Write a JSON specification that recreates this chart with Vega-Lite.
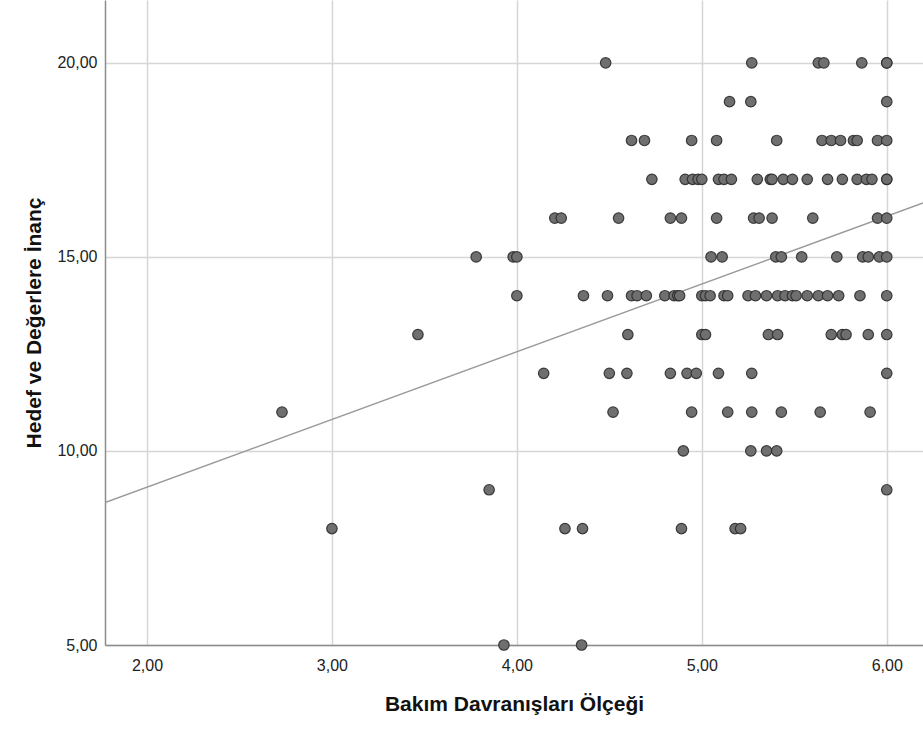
{
  "$schema": "https://vega.github.io/schema/vega-lite/v6.json",
  "autosize": {"type": "none"},
  "padding": {"left": 105, "top": 0, "right": 0, "bottom": 85},
  "width": 818,
  "height": 645,
  "background": "white",
  "config": {
    "view": {"stroke": null},
    "font": "Liberation Sans",
    "axis": {
      "grid": true,
      "gridColor": "#d6d6d6",
      "gridWidth": 1.5,
      "domainColor": "#8c8c8c",
      "domainWidth": 1.5,
      "ticks": false,
      "labelFont": "Liberation Sans",
      "labelFontSize": 16,
      "labelColor": "#222222",
      "titleFont": "Liberation Sans",
      "titleFontSize": 21,
      "titleFontWeight": "bold",
      "titleColor": "#111111"
    }
  },
  "datasets": {
    "pts": [
      {"x": 4.48, "y": 20}, {"x": 5.27, "y": 20}, {"x": 5.63, "y": 20}, {"x": 5.66, "y": 20}, {"x": 5.865, "y": 20}, {"x": 6.0, "y": 20}, {"x": 6.0, "y": 20},
      {"x": 5.15, "y": 19}, {"x": 5.265, "y": 19}, {"x": 6.0, "y": 19},
      {"x": 4.62, "y": 18}, {"x": 4.69, "y": 18}, {"x": 4.945, "y": 18}, {"x": 5.08, "y": 18}, {"x": 5.405, "y": 18}, {"x": 5.65, "y": 18}, {"x": 5.70, "y": 18}, {"x": 5.75, "y": 18}, {"x": 5.82, "y": 18}, {"x": 5.84, "y": 18}, {"x": 5.95, "y": 18}, {"x": 6.0, "y": 18},
      {"x": 4.73, "y": 17}, {"x": 4.91, "y": 17}, {"x": 4.95, "y": 17}, {"x": 4.98, "y": 17}, {"x": 5.0, "y": 17}, {"x": 5.09, "y": 17}, {"x": 5.12, "y": 17}, {"x": 5.16, "y": 17}, {"x": 5.30, "y": 17}, {"x": 5.37, "y": 17}, {"x": 5.38, "y": 17}, {"x": 5.44, "y": 17}, {"x": 5.49, "y": 17}, {"x": 5.57, "y": 17}, {"x": 5.68, "y": 17}, {"x": 5.76, "y": 17}, {"x": 5.84, "y": 17}, {"x": 5.89, "y": 17}, {"x": 5.92, "y": 17}, {"x": 6.0, "y": 17}, {"x": 6.0, "y": 17},
      {"x": 4.205, "y": 16}, {"x": 4.24, "y": 16}, {"x": 4.55, "y": 16}, {"x": 4.83, "y": 16}, {"x": 4.89, "y": 16}, {"x": 5.08, "y": 16}, {"x": 5.28, "y": 16}, {"x": 5.31, "y": 16}, {"x": 5.38, "y": 16}, {"x": 5.60, "y": 16}, {"x": 5.95, "y": 16}, {"x": 6.0, "y": 16},
      {"x": 3.78, "y": 15}, {"x": 3.98, "y": 15}, {"x": 4.0, "y": 15}, {"x": 5.05, "y": 15}, {"x": 5.11, "y": 15}, {"x": 5.40, "y": 15}, {"x": 5.43, "y": 15}, {"x": 5.54, "y": 15}, {"x": 5.73, "y": 15}, {"x": 5.87, "y": 15}, {"x": 5.90, "y": 15}, {"x": 5.96, "y": 15}, {"x": 6.0, "y": 15},
      {"x": 4.0, "y": 14}, {"x": 4.36, "y": 14}, {"x": 4.49, "y": 14}, {"x": 4.62, "y": 14}, {"x": 4.65, "y": 14}, {"x": 4.70, "y": 14}, {"x": 4.80, "y": 14}, {"x": 4.85, "y": 14}, {"x": 4.87, "y": 14}, {"x": 4.88, "y": 14}, {"x": 5.0, "y": 14}, {"x": 5.02, "y": 14}, {"x": 5.045, "y": 14}, {"x": 5.12, "y": 14}, {"x": 5.14, "y": 14}, {"x": 5.25, "y": 14}, {"x": 5.29, "y": 14}, {"x": 5.35, "y": 14}, {"x": 5.41, "y": 14}, {"x": 5.45, "y": 14}, {"x": 5.49, "y": 14}, {"x": 5.51, "y": 14}, {"x": 5.57, "y": 14}, {"x": 5.63, "y": 14}, {"x": 5.68, "y": 14}, {"x": 5.74, "y": 14}, {"x": 5.855, "y": 14}, {"x": 6.0, "y": 14},
      {"x": 3.465, "y": 13}, {"x": 4.60, "y": 13}, {"x": 5.0, "y": 13}, {"x": 5.02, "y": 13}, {"x": 5.36, "y": 13}, {"x": 5.41, "y": 13}, {"x": 5.70, "y": 13}, {"x": 5.76, "y": 13}, {"x": 5.78, "y": 13}, {"x": 5.90, "y": 13}, {"x": 6.0, "y": 13},
      {"x": 4.145, "y": 12}, {"x": 4.50, "y": 12}, {"x": 4.595, "y": 12}, {"x": 4.83, "y": 12}, {"x": 4.92, "y": 12}, {"x": 4.97, "y": 12}, {"x": 5.09, "y": 12}, {"x": 5.27, "y": 12}, {"x": 6.0, "y": 12},
      {"x": 2.73, "y": 11}, {"x": 4.52, "y": 11}, {"x": 4.945, "y": 11}, {"x": 5.14, "y": 11}, {"x": 5.27, "y": 11}, {"x": 5.43, "y": 11}, {"x": 5.64, "y": 11}, {"x": 5.91, "y": 11},
      {"x": 4.90, "y": 10}, {"x": 5.265, "y": 10}, {"x": 5.35, "y": 10}, {"x": 5.405, "y": 10},
      {"x": 3.85, "y": 9}, {"x": 6.0, "y": 9},
      {"x": 3.0, "y": 8}, {"x": 4.26, "y": 8}, {"x": 4.355, "y": 8}, {"x": 4.89, "y": 8}, {"x": 5.18, "y": 8}, {"x": 5.21, "y": 8},
      {"x": 3.93, "y": 5}, {"x": 4.35, "y": 5}
    ],
    "fit": [
      {"x": 1.773, "y": 8.67},
      {"x": 6.196, "y": 16.39}
    ]
  },
  "encoding": {
    "x": {
      "field": "x", "type": "quantitative",
      "scale": {"domain": [1.773, 6.196], "nice": false, "zero": false},
      "axis": {"title": "Bakım Davranışları Ölçeği", "values": [2, 3, 4, 5, 6], "labelExpr": "replace(format(datum.value, '.2f'), '.', ',')", "labelPadding": 12, "titlePadding": 20}
    },
    "y": {
      "field": "y", "type": "quantitative",
      "scale": {"domain": [5, 21.62], "nice": false, "zero": false},
      "axis": {"title": "Hedef ve Değerlere İnanç", "values": [5, 10, 15, 20], "labelExpr": "replace(format(datum.value, '.2f'), '.', ',')", "labelPadding": 8, "titlePadding": 12}
    }
  },
  "layer": [
    {
      "data": {"name": "fit"},
      "mark": {"type": "line", "color": "#9a9a9a", "strokeWidth": 1.5, "clip": true}
    },
    {
      "data": {"name": "pts"},
      "mark": {"type": "point", "filled": true, "fill": "#6f6f6f", "stroke": "#2e2e2e", "strokeWidth": 1.2, "size": 110, "opacity": 1, "fillOpacity": 1, "strokeOpacity": 0.9}
    }
  ]
}
